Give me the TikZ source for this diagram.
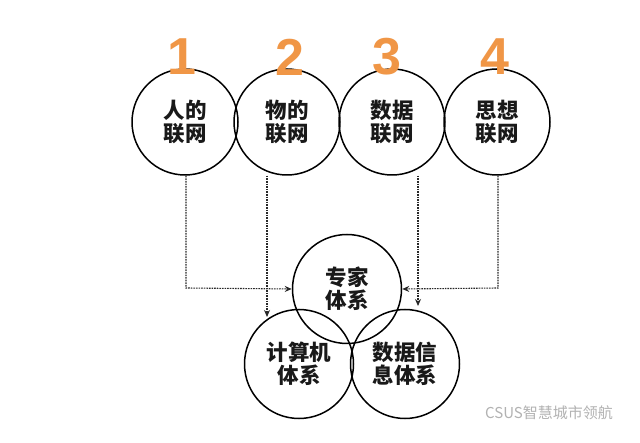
\documentclass[tikz,border=0pt]{standalone}
\usepackage{fontspec}
\setmainfont{Liberation Sans}
\newfontfamily\cjk{Noto Sans CJK SC}[BoldFont={Noto Sans CJK SC Black}]
\usetikzlibrary{arrows.meta}
\definecolor{numorange}{RGB}{240,150,70}
\definecolor{linegray}{RGB}{40,40,40}
\tikzset{
  x=1pt, y=-1pt,
  topcirc/.style={circle, draw=black, line width=1.5pt, minimum size=106pt, inner sep=0pt,
    font=\cjk\bfseries\fontsize{21.5}{23}\selectfont, align=center, text=black!90},
  botcirc/.style={circle, draw=black, line width=1.5pt, minimum size=109pt, inner sep=0pt,
    font=\cjk\bfseries\fontsize{21.5}{23}\selectfont, align=center, text=black!90},
  numlab/.style={font=\bfseries\fontsize{52}{52}\selectfont, text=numorange, inner sep=0pt},
  link/.style={draw=linegray, line width=1.1pt, dash pattern=on 1.6pt off 1pt,
    -{Stealth[length=7pt,width=6pt]}},
}
\begin{document}
\begin{tikzpicture}
\useasboundingbox (0,0) rectangle (640,443);
\fill[white] (0,0) rectangle (640,443);
% top circles
\node[topcirc] (c1) at (185,122) {人的\\联网};
\node[topcirc] (c2) at (287,122) {物的\\联网};
\node[topcirc] (c3) at (392,122) {数据\\联网};
\node[topcirc] (c4) at (497,122) {思想\\联网};
% numbers
\node[numlab] (n1) at (182,57) {1};
\node[numlab] (n2) at (290,57) {2};
\node[numlab] (n3) at (387,57) {3};
\node[numlab] (n4) at (495,57) {4};
% bottom circles
\node[botcirc] (e) at (347,289) {专家\\体系};
\node[botcirc] (j) at (299,364) {计算机\\体系};
\node[botcirc] (d) at (405,364) {数据信\\息体系};
% connectors
\coordinate (b1) at (186,288);
\coordinate (b4) at (498,288);
\draw[link] (c1.south -| b1) -- (b1) -- (e.west);
\draw[link] (c4.south -| b4) -- (b4) -- (e.east);
\coordinate (x2) at (267,0);
\coordinate (x3) at (418,0);
\draw[link] (c2.south -| x2) -- (x2 |- 317,317);
\draw[link] (c3.south -| x3) -- (x3 |- 306,306);
% watermark
\node[font=\cjk\fontsize{15}{15}\selectfont, text=black!30, anchor=west, inner sep=0pt] (wm) at (485,413) {CSUS智慧城市领航};
\end{tikzpicture}
\end{document}
